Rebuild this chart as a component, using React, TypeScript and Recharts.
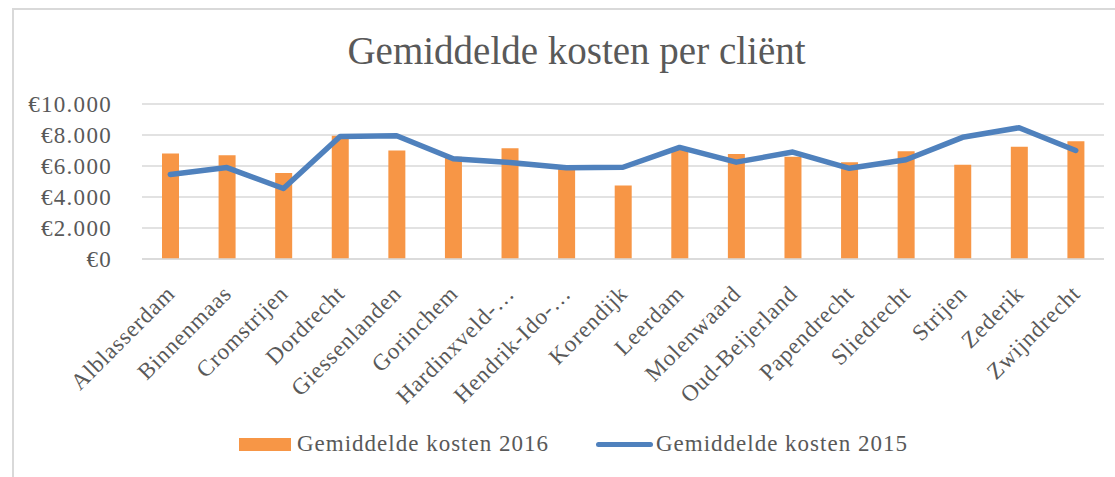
import React from 'react';
import { ComposedChart, Bar, Line, XAxis, YAxis, CartesianGrid, Legend } from 'recharts';

const categories = [
  'Alblasserdam', 'Binnenmaas', 'Cromstrijen', 'Dordrecht', 'Giessenlanden', 'Gorinchem',
  'Hardinxveld-…', 'Hendrik-Ido-…', 'Korendijk', 'Leerdam', 'Molenwaard', 'Oud-Beijerland',
  'Papendrecht', 'Sliedrecht', 'Strijen', 'Zederik', 'Zwijndrecht',
];
const costs2016 = [6800, 6700, 5550, 7950, 7000, 6600, 7150, 5850, 4750, 7050, 6780, 6600, 6250, 6950, 6080, 7250, 7600];
const costs2015 = [5450, 5900, 4550, 7900, 7950, 6470, 6220, 5880, 5920, 7200, 6250, 6900, 5850, 6400, 7850, 8470, 7000];
const yTicks = [0, 2000, 4000, 6000, 8000, 10000];
const seriesNames = ['Gemiddelde kosten 2016', 'Gemiddelde kosten 2015'];
const title = 'Gemiddelde kosten per cliënt';

const ORANGE = '#F79646';
const BLUE = '#4F81BD';
const TEXT = '#595959';
const FONT = '"Liberation Serif", serif';

const data = categories.map((name, i) => ({ name, k2016: costs2016[i], k2015: costs2015[i] }));

const fmt = (v: number) => '€' + String(v).replace(/\B(?=(\d{3})+(?!\d))/g, '.');

const XTick = (props: any) => {
  const { x, y, payload } = props;
  return (
    <text
      transform={`translate(${x + 6},${y + 28}) rotate(-45)`}
      textAnchor="end"
      fill={TEXT}
      fontSize={23}
      letterSpacing={0.8}
      fontFamily={FONT}
    >
      {payload.value}
    </text>
  );
};

const YTick = (props: any) => {
  const { x, y, payload } = props;
  return (
    <text
      x={x}
      y={y}
      dy={8}
      textAnchor="end"
      fill={TEXT}
      fontSize={23}
      letterSpacing={1.3}
      fontFamily={FONT}
    >
      {fmt(payload.value)}
    </text>
  );
};

const LegendContent = () => (
  <div style={{ display: 'flex', alignItems: 'center', fontFamily: FONT, fontSize: 23, letterSpacing: 1, color: TEXT, paddingLeft: 239, height: 30 }}>
    <span style={{ display: 'inline-block', width: 52, height: 13, background: ORANGE, marginRight: 6 }} />
    <span style={{ marginRight: 47 }}>{seriesNames[0]}</span>
    <span style={{ display: 'inline-block', width: 57, height: 5, borderRadius: 3, background: BLUE, marginRight: 3 }} />
    <span>{seriesNames[1]}</span>
  </div>
);

export default function App() {
  return (
    <div style={{ position: 'absolute', left: 0, top: 0, width: 1115, height: 477, background: '#fff', overflow: 'hidden' }}>
      <div style={{ position: 'absolute', left: 12, top: 8, width: 1120, height: 480, borderTop: '2px solid #D9D9D9', borderLeft: '2px solid #D9D9D9' }} />
      <div style={{ position: 'absolute', left: 0, top: 32, width: 1153, textAlign: 'center', fontFamily: FONT, fontSize: 39, lineHeight: '38px', color: TEXT }}>
        {title}
      </div>
      <div style={{ position: 'absolute', left: 0, top: 0 }}>
        <ComposedChart width={1115} height={477} data={data} margin={{ top: 104, right: 11, left: 12, bottom: 78 }}>
          <CartesianGrid vertical={false} stroke="#D9D9D9" strokeWidth={1.5} />
          <XAxis
            dataKey="name"
            interval={0}
            height={140}
            tickLine={false}
            axisLine={{ stroke: '#D9D9D9', strokeWidth: 1.5 }}
            tick={<XTick />}
          />
          <YAxis
            width={130}
            domain={[0, 10000]}
            ticks={yTicks}
            interval={0}
            axisLine={false}
            tickLine={false}
            tickSize={0}
            tickMargin={30}
            tick={<YTick />}
          />
          <Legend
            verticalAlign="middle"
            layout="horizontal"
            wrapperStyle={{ position: 'absolute', top: 429, left: 0, width: 1115 }}
            content={<LegendContent />}
          />
          <Bar dataKey="k2016" name={seriesNames[0]} fill={ORANGE} barSize={17} isAnimationActive={false} />
          <Line
            dataKey="k2015"
            name={seriesNames[1]}
            stroke={BLUE}
            strokeWidth={5.5}
            dot={false}
            strokeLinecap="round"
            strokeLinejoin="round"
            isAnimationActive={false}
          />
        </ComposedChart>
      </div>
    </div>
  );
}
